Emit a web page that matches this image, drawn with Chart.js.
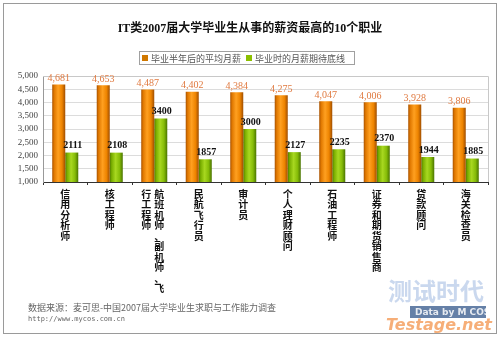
<!DOCTYPE html>
<html><head><meta charset="utf-8">
<script src="https://cdn.jsdelivr.net/npm/chart.js@4/dist/chart.umd.min.js"></script>
<style>html,body{margin:0;padding:0;background:#fff;}#wrap{position:relative;width:500px;height:337px;}</style>
</head><body><div id="wrap"><canvas id="c" width="500" height="337"></canvas></div>
<script>
const titleText = 'IT类2007届大学毕业生从事的薪资最高的10个职业';
const categories = ['信用分析师','核工程师','航班机师、副机师、飞行工程师','民航飞行员','审计员','个人理财顾问','石油工程师','证券和期货销售商','贷款顾问','海关检查员'];
// how each category label is split into vertical columns (right column first)
const labelColumns = [['信用分析师'],['核工程师'],['航班机师、副机师、飞','行工程师'],['民航飞行员'],['审计员'],['个人理财顾问'],['石油工程师'],['证券和期货销售商'],['贷款顾问'],['海关检查员']];
const seriesNames = ['毕业半年后的平均月薪','毕业时的月薪期待底线'];
const avgSalary = [4681,4653,4487,4402,4384,4275,4047,4006,3928,3806];
const expectSalary = [2111,2108,3400,1857,3000,2127,2235,2370,1944,1885];
const yTicks = [1000,1500,2000,2500,3000,3500,4000,4500,5000];
const footer1 = '数据来源：麦可思-中国2007届大学毕业生求职与工作能力调查';
const footer2 = 'http://www.mycos.com.cn';

const CAT_PCT = 0.585;
function barGradient(di, stops) {
  return function(ctx) {
    const chart = ctx.chart;
    const xs = chart.scales && chart.scales.x;
    if (!chart.chartArea || !xs || ctx.dataIndex === undefined) return stops[2][1];
    const center = xs.getPixelForValue(ctx.dataIndex);
    const catW = chart.chartArea.width / categories.length;
    const bw = catW * CAT_PCT / 2;
    const left = di === 0 ? center - bw : center;
    const g = chart.ctx.createLinearGradient(left, 0, left + bw, 0);
    stops.forEach(s => g.addColorStop(s[0], s[1]));
    return g;
  };
}
const orangeStops = [[0,'#a85200'],[0.15,'#e07800'],[0.45,'#ffa020'],[0.75,'#ee8400'],[1,'#a04e00']];
const greenStops = [[0,'#4f7a00'],[0.15,'#79ae00'],[0.45,'#a8d820'],[0.75,'#86bc08'],[1,'#4a7400']];

const decor = {
  id: 'decor',
  afterDraw(chart) {
    const ctx = chart.ctx;
    const ca = chart.chartArea;
    ctx.save();
    // outer border
    ctx.strokeStyle = '#9a9a9a'; ctx.lineWidth = 1;
    ctx.strokeRect(3.5, 3.5, 493, 330);
    // plot border
    ctx.strokeStyle = '#c8c8c8';
    ctx.beginPath();
    ctx.moveTo(ca.left, ca.top + 0.5); ctx.lineTo(ca.right + 0.5, ca.top + 0.5); ctx.lineTo(ca.right + 0.5, ca.bottom);
    ctx.stroke();
    // title
    ctx.fillStyle = '#111';
    ctx.font = 'bold 12px "Liberation Serif", "Noto Sans CJK SC"';
    ctx.textAlign = 'center'; ctx.textBaseline = 'middle';
    ctx.fillText(titleText, 250, 29);
    // legend
    ctx.strokeStyle = '#a0a0a0';
    ctx.strokeRect(139.5, 51.5, 215, 13);
    ctx.font = '9px "Noto Sans CJK SC"';
    ctx.textAlign = 'left';
    const lx = [142, 246];
    const cols = ['#d07800', '#8cc000'];
    seriesNames.forEach((n, i) => {
      ctx.fillStyle = cols[i];
      ctx.fillRect(lx[i], 55, 6, 6);
      ctx.fillStyle = '#555';
      ctx.fillText(n, lx[i] + 9, 58.5);
    });
    // value labels
    ctx.textAlign = 'center';
    [0, 1].forEach(di => {
      const meta = chart.getDatasetMeta(di);
      const vals = chart.data.datasets[di].data;
      meta.data.forEach((el, i) => {
        if (di === 0) {
          ctx.fillStyle = '#e07a40';
          ctx.font = '10px "Liberation Serif"';
          ctx.fillText(vals[i].toLocaleString('en-US'), el.x, el.y - 6);
        } else {
          ctx.fillStyle = '#111';
          ctx.font = 'bold 10px "Liberation Serif"';
          ctx.fillText(String(vals[i]), el.x + 1, el.y - 7);
        }
      });
    });
    // vertical category labels
    ctx.textAlign = 'center'; ctx.textBaseline = 'middle';
    ctx.font = 'bold 10px "Noto Sans CJK SC"';
    ctx.fillStyle = '#111';
    const xs = chart.scales.x;
    labelColumns.forEach((colsArr, i) => {
      const cx = xs.getPixelForValue(i);
      const n = colsArr.length;
      colsArr.forEach((txt, k) => {
        const x = cx + (n === 1 ? 0 : (k === 0 ? 5 : -8));
        [...txt].forEach((ch, j) => {
          ctx.fillText(ch, x, 194 + j * 10.5);
        });
      });
    });
    // footer
    ctx.textAlign = 'left';
    ctx.fillStyle = '#666';
    ctx.font = '9px "Noto Sans CJK SC"';
    ctx.fillText(footer1, 28, 308);
    ctx.font = '7px "DejaVu Sans Mono"';
    ctx.fillText(footer2, 28, 319);
    // watermark
    ctx.globalAlpha = 0.55;
    ctx.font = 'bold 24px "Noto Sans CJK SC"';
    ctx.fillStyle = '#9fb8e0';
    ctx.fillText('测试时代', 388, 291);
    ctx.globalAlpha = 0.85;
    ctx.fillStyle = '#4a6a98';
    ctx.fillRect(410, 306, 76, 12);
    ctx.fillStyle = '#fff';
    ctx.font = 'bold 9px "DejaVu Sans"';
    ctx.fillText('Data by M COS', 415, 312.5);
    ctx.fillStyle = '#f4a060';
    ctx.font = 'bold italic 16px "DejaVu Sans"';
    ctx.fillText('Testage.net', 386, 326);
    ctx.restore();
  }
};

new Chart(document.getElementById('c'), {
  type: 'bar',
  data: {
    labels: categories,
    datasets: [
      { label: seriesNames[0], data: avgSalary, backgroundColor: barGradient(0, orangeStops), categoryPercentage: CAT_PCT, barPercentage: 1 },
      { label: seriesNames[1], data: expectSalary, backgroundColor: barGradient(1, greenStops), categoryPercentage: CAT_PCT, barPercentage: 1 }
    ]
  },
  options: {
    responsive: false,
    animation: false,
    layout: { padding: { left: 0, right: 12, top: 76, bottom: 155 } },
    plugins: { legend: { display: false }, title: { display: false }, tooltip: { enabled: false } },
    scales: {
      x: {
        ticks: { display: false },
        grid: { offset: true, drawOnChartArea: false, color: '#333', tickLength: 3 },
        border: { color: '#333' },
        afterFit(s) { s.height = 0; s.paddingLeft = 0; s.paddingRight = 0; }
      },
      y: {
        min: 1000, max: 5000,
        afterBuildTicks(s) { s.ticks = yTicks.map(v => ({ value: v })); },
        ticks: {
          autoSkip: false,
          font: { family: '"Liberation Serif"', size: 9 },
          color: '#444',
          padding: 5,
          callback: v => v.toLocaleString('en-US')
        },
        grid: { color: '#dcdcdc', drawTicks: false },
        border: { color: '#999' },
        afterFit(s) { s.width = 43; s.paddingTop = 0; s.paddingBottom = 0; }
      }
    }
  },
  plugins: [decor]
});
</script>
</body></html>
